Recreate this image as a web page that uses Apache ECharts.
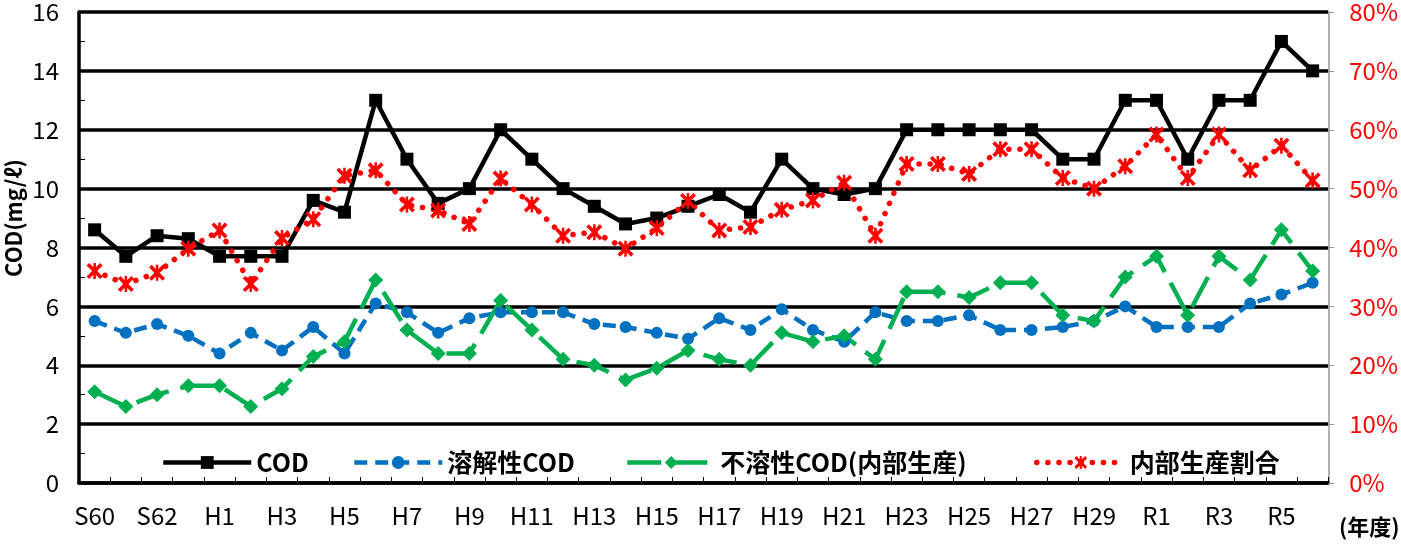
<!DOCTYPE html>
<html>
<head>
<meta charset="utf-8">
<script src="https://cdn.jsdelivr.net/npm/echarts@6/dist/echarts.min.js"></script>
<style>
html,body{margin:0;padding:0;background:#fff;}
#main{width:1401px;height:545px;}
</style>
</head>
<body>
<div id="main"></div>
<script>
// 年度
var years = ['S60','S61','S62','S63',
    'H1','H2','H3','H4','H5','H6','H7','H8','H9','H10',
    'H11','H12','H13','H14','H15','H16','H17','H18','H19','H20',
    'H21','H22','H23','H24','H25','H26','H27','H28','H29','H30',
    'R1','R2','R3','R4','R5','R6'];

// COD (mg/l)
var cod = [8.6,7.7,8.4,8.3,
    7.7,7.7,7.7,9.6,9.2,13.0,11.0,9.5,10.0,12.0,
    11.0,10.0,9.4,8.8,9.0,9.4,9.8,9.2,11.0,10.0,
    9.8,10.0,12.0,12.0,12.0,12.0,12.0,11.0,11.0,13.0,
    13.0,11.0,13.0,13.0,15.0,14.0];

// 溶解性COD
var solCod = [5.5,5.1,5.4,5.0,
    4.4,5.1,4.5,5.3,4.4,6.1,5.8,5.1,5.6,5.8,
    5.8,5.8,5.4,5.3,5.1,4.9,5.6,5.2,5.9,5.2,
    4.8,5.8,5.5,5.5,5.7,5.2,5.2,5.3,5.5,6.0,
    5.3,5.3,5.3,6.1,6.4,6.8];

// 不溶性COD(内部生産)
var insolCod = [3.1,2.6,3.0,3.3,
    3.3,2.6,3.2,4.3,4.8,6.9,5.2,4.4,4.4,6.2,
    5.2,4.2,4.0,3.5,3.9,4.5,4.2,4.0,5.1,4.8,
    5.0,4.2,6.5,6.5,6.3,6.8,6.8,5.7,5.5,7.0,
    7.7,5.7,7.7,6.9,8.6,7.2];

// 内部生産割合 (%)
var ratio = [36.0,33.8,35.7,39.8,
    42.9,33.8,41.6,44.8,52.2,53.1,47.3,46.3,44.0,51.7,
    47.3,42.0,42.6,39.8,43.3,47.9,42.9,43.5,46.4,48.0,
    51.0,42.0,54.2,54.2,52.5,56.7,56.7,51.8,50.0,53.8,
    59.2,51.8,59.2,53.1,57.3,51.4];

var names = ['COD','溶解性COD','不溶性COD(内部生産)','内部生産割合'];

var font = 'Noto Sans CJK JP, sans-serif';
// アスタリスク型マーカー
var starMark = 'path://M0,1.6L1.6,0L10,8.4L8.4,10Z M8.4,0L10,1.6L1.6,10L0,8.4Z M4.2,0L5.8,0L5.8,10L4.2,10Z';

function legendAt(left, name, lineWidth){
    return {
        left: left,
        top: 445,
        itemWidth: 88,
        itemHeight: 16,
        data: [name],
        lineStyle: {width: lineWidth},
        textStyle: {
            fontFamily: font,
            fontSize: 25,
            fontWeight: 'bold',
            color: '#000'
        }
    };
}

var myChart = echarts.init(document.getElementById('main'));
var option = {
    backgroundColor: '#fff',
    animation: false,
    grid: {
        left: 79,
        right: 65,
        top: 12,
        bottom: 62
    },
    legend: [
        legendAt(156, names[0], 4.5),
        legendAt(347, names[1], 4.5),
        legendAt(620, names[2], 4.5),
        legendAt(1029, names[3], 5.5)
    ],
    xAxis: {
        type: 'category',
        data: years,
        boundaryGap: true,
        axisLine: {lineStyle: {color: '#000', width: 3.5}},
        axisTick: {show: true, inside: true, length: 6, interval: 0, lineStyle: {color: '#000', width: 1}},
        axisLabel: {interval: 1, margin: 21, color: '#000', fontSize: 24, fontFamily: font}
    },
    yAxis: [
        {
            type: 'value',
            min: 0,
            max: 16,
            interval: 2,
            axisLine: {show: true, lineStyle: {color: '#000', width: 3.5}},
            axisTick: {show: true, inside: true, length: 6, lineStyle: {color: '#000'}},
            minorTick: {show: true, splitNumber: 2, length: 6, lineStyle: {color: '#000'}},
            axisLabel: {margin: 20, color: '#000', fontSize: 24, fontFamily: font},
            splitLine: {show: true, lineStyle: {color: '#000', width: 3.5}}
        },
        {
            type: 'value',
            min: 0,
            max: 80,
            interval: 10,
            position: 'right',
            axisLine: {show: true, lineStyle: {color: '#999', width: 1.5}},
            axisTick: {show: true, inside: false, length: 6, lineStyle: {color: '#999'}},
            axisLabel: {margin: 21, color: '#ff0000', fontSize: 24, fontFamily: font, formatter: '{value}%'},
            splitLine: {show: false}
        }
    ],
    graphic: [
        {
            // 縦軸タイトル
            type: 'text',
            x: 14,
            y: 218,
            rotation: Math.PI / 2,
            style: {text: 'COD(mg/ℓ)', fontFamily: font, fontSize: 22, fontWeight: 'bold', fill: '#000', align: 'center', verticalAlign: 'middle'}
        },
        {
            type: 'text',
            left: 1339,
            top: 516,
            style: {text: '(年度)', fontFamily: font, fontSize: 22, fontWeight: 'bold', fill: '#000'}
        }
    ],
    series: [
        {
            name: names[0],
            type: 'line',
            data: cod,
            symbol: 'rect',
            symbolSize: 13,
            itemStyle: {color: '#000'},
            lineStyle: {color: '#000', width: 4.5}
        },
        {
            name: names[1],
            type: 'line',
            data: solCod,
            symbol: 'circle',
            symbolSize: 12,
            itemStyle: {color: '#0070c0'},
            lineStyle: {color: '#0070c0', width: 4.5, type: [13, 8]}
        },
        {
            name: names[2],
            type: 'line',
            data: insolCod,
            symbol: 'diamond',
            symbolSize: 15,
            itemStyle: {color: '#00b050'},
            lineStyle: {color: '#00b050', width: 4.5, type: [34, 12]}
        },
        {
            name: names[3],
            type: 'line',
            yAxisIndex: 1,
            data: ratio,
            symbol: starMark,
            symbolSize: 16,
            itemStyle: {color: '#ff0000'},
            lineStyle: {color: '#ff0000', width: 5.5, type: [0.1, 11], cap: 'round'}
        }
    ]
};
myChart.setOption(option);
</script>
</body>
</html>
